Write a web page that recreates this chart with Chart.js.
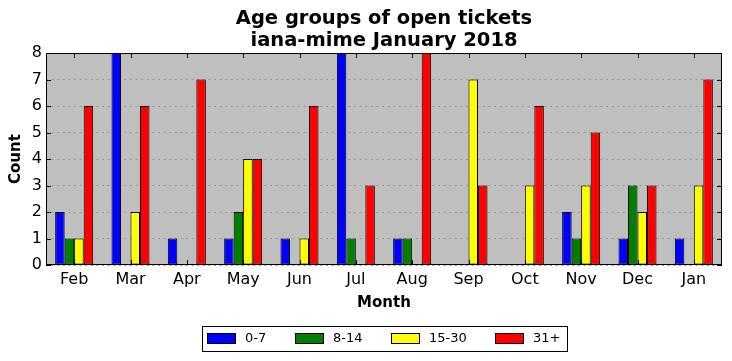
<!DOCTYPE html>
<html>
<head>
<meta charset="utf-8">
<script src="https://cdn.jsdelivr.net/npm/chart.js@4"></script>
<style>
  html, body { margin: 0; padding: 0; background: #fff; overflow: hidden; }
  #wrap { width: 732px; height: 361px; position: relative; }
</style>
</head>
<body>
<div id="wrap"><canvas id="c" width="732" height="361"></canvas></div>
<script>
const months = ['Feb','Mar','Apr','May','Jun','Jul','Aug','Sep','Oct','Nov','Dec','Jan'];
const age0to7   = [2, 8, 1, 1, 1, 8, 1, 0, 0, 2, 1, 1];
const age8to14  = [1, 0, 0, 2, 0, 1, 1, 0, 0, 1, 3, 0];
const age15to30 = [1, 2, 0, 4, 1, 0, 0, 7, 3, 3, 2, 3];
const age31plus = [6, 6, 7, 4, 6, 3, 8, 3, 6, 5, 3, 7];
const seriesNames = ['0-7', '8-14', '15-30', '31+'];
const seriesColors = ['#0000ff', '#008000', '#ffff00', '#ff0000'];
const titleLines = ['Age groups of open tickets', 'iana-mime January 2018'];
const FONT = "'DejaVu Sans', sans-serif";

const seriesData = [age0to7, age8to14, age15to30, age31plus];
const datasets = seriesData.map((d, i) => ({
  label: seriesNames[i],
  data: d,
  backgroundColor: seriesColors[i],
  borderColor: '#000',
  borderWidth: 1,
  borderSkipped: false,
  categoryPercentage: 0.675,
  barPercentage: 1.0
}));

const framePlugin = {
  id: 'frame',
  beforeDraw(chart) {
    const a = chart.chartArea, ctx = chart.ctx;
    ctx.save();
    ctx.fillStyle = '#bfbfbf';
    ctx.fillRect(a.left, a.top, a.right - a.left, a.bottom - a.top);
    ctx.restore();
  },
  afterDatasetsDraw(chart) {
    const a = chart.chartArea, ctx = chart.ctx;
    const xs = chart.scales.x, ys = chart.scales.y;
    ctx.save();
    ctx.strokeStyle = '#000';
    ctx.lineWidth = 1;
    ctx.beginPath();
    xs.ticks.forEach((t, i) => {
      const x = Math.round(xs.getPixelForTick(i)) + 0.5;
      ctx.moveTo(x, a.bottom); ctx.lineTo(x, a.bottom - 5);
      ctx.moveTo(x, a.top); ctx.lineTo(x, a.top + 5);
    });
    ys.ticks.forEach((t, i) => {
      const y = Math.round(ys.getPixelForTick(i)) + 0.5;
      ctx.moveTo(a.left, y); ctx.lineTo(a.left + 5, y);
      ctx.moveTo(a.right, y); ctx.lineTo(a.right - 5, y);
    });
    ctx.stroke();
    ctx.strokeRect(Math.round(a.left) + 0.5, Math.round(a.top) + 0.5,
                   Math.round(a.right - a.left) - 1, Math.round(a.bottom - a.top) - 1);
    ctx.restore();
  },
  afterDraw(chart) {
    const ctx = chart.ctx;
    const boxX = 202, boxY = 326, boxW = 365, boxH = 25;
    const itemX = [207, 295, 391, 495];
    ctx.save();
    ctx.fillStyle = '#fff';
    ctx.fillRect(boxX, boxY, boxW, boxH);
    ctx.strokeStyle = '#000';
    ctx.lineWidth = 1;
    ctx.strokeRect(boxX + 0.5, boxY + 0.5, boxW, boxH);
    ctx.font = '13px ' + FONT;
    ctx.textBaseline = 'middle';
    chart.data.datasets.forEach((ds, i) => {
      const x = itemX[i];
      ctx.fillStyle = ds.backgroundColor;
      ctx.fillRect(x, 333, 28, 10);
      ctx.strokeRect(x + 0.5, 333.5, 28, 10);
      ctx.fillStyle = '#000';
      ctx.fillText(ds.label, x + 38, 339);
    });
    ctx.restore();
  }
};

new Chart(document.getElementById('c'), {
  type: 'bar',
  data: { labels: months, datasets },
  options: {
    responsive: false,
    animation: false,
    devicePixelRatio: 1,
    layout: { padding: { left: 0, right: 10, top: 8, bottom: 40 } },
    plugins: {
      legend: { display: false },
      tooltip: { enabled: false },
      title: {
        display: true,
        fullSize: false,
        text: titleLines,
        color: '#000',
        font: { family: FONT, size: 19.5, weight: 'bold', lineHeight: 1.13 },
        padding: { top: 0, bottom: 1 }
      }
    },
    scales: {
      x: {
        grid: { display: false, drawTicks: false },
        border: { display: false },
        ticks: { color: '#000', font: { family: FONT, size: 16 }, padding: 5, maxRotation: 0 },
        title: { display: true, text: 'Month', color: '#000', font: { family: FONT, size: 15, weight: 'bold' }, padding: { top: 0, bottom: 9 } },
        afterFit(s) { s.height = 56; }
      },
      y: {
        min: 0, max: 8,
        grid: { display: true, drawTicks: false, color: '#979797', lineWidth: 1 },
        border: { display: false, dash: [2, 3.6] },
        ticks: { stepSize: 1, color: '#000', font: { family: FONT, size: 16 }, padding: 4 },
        title: { display: true, text: 'Count', color: '#000', font: { family: FONT, size: 15, weight: 'bold' }, padding: { top: 7, bottom: 0 } },
        afterFit(s) { s.width = 46; }
      }
    }
  },
  plugins: [framePlugin]
});
</script>
</body>
</html>
